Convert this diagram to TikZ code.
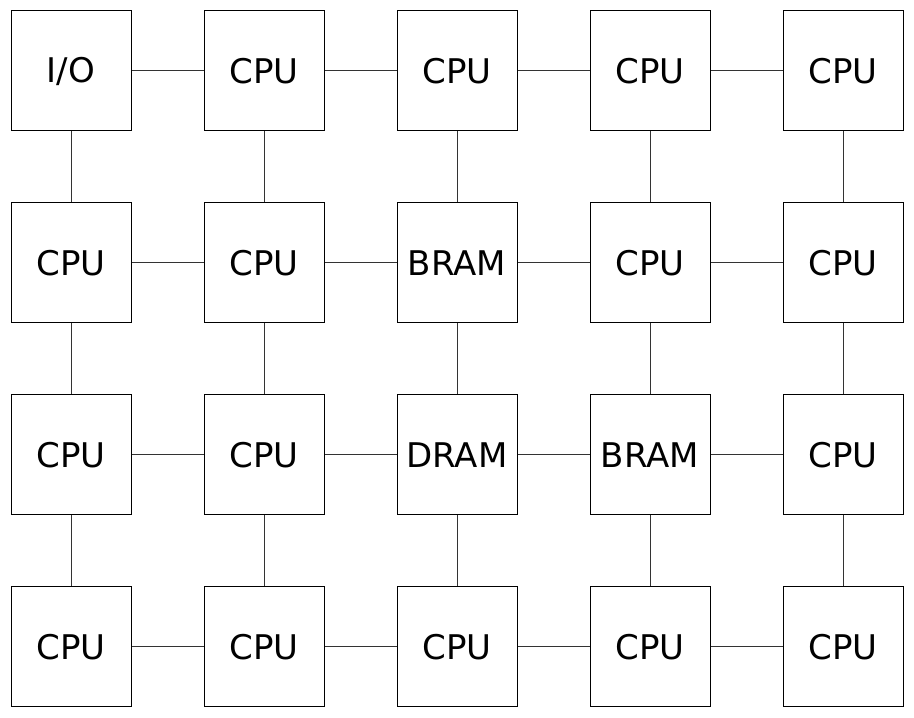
\documentclass[tikz,border=0pt]{standalone}
\usepackage{fontspec}
\setmainfont{DejaVu Sans}
\usetikzlibrary{positioning}
\tikzset{
  tile/.style = {rectangle, draw=black, fill=white, line width=1pt,
                 minimum size=120pt, inner sep=0pt,
                 font=\fontsize{34}{40}\selectfont},
  link/.style = {draw=black!80, line width=1pt},
}
\begin{document}
\begin{tikzpicture}[x=1pt,y=1pt]
\useasboundingbox (0,0) rectangle (914,718);
% --- tiles, row by row from the top -----------------------------------
\foreach \lbl [count=\k from 0] in {{I/O},CPU,CPU,CPU,CPU,
                                    CPU,CPU,BRAM,CPU,CPU,
                                    CPU,CPU,DRAM,BRAM,CPU,
                                    CPU,CPU,CPU,CPU,CPU} {
  \pgfmathtruncatemacro\c{mod(\k,5)}
  \pgfmathtruncatemacro\r{div(\k,5)}
  \node[tile] (n\c\r) at (71+193*\c, 647-192*\r) {\lbl};
}
% --- mesh links -------------------------------------------------------
\foreach \r in {0,...,3} {
  \foreach \c/\d in {0/1,1/2,2/3,3/4} {\draw[link] (n\c\r) -- (n\d\r);}
}
\foreach \c in {0,...,4} {
  \foreach \r/\s in {0/1,1/2,2/3} {\draw[link] (n\c\r) -- (n\c\s);}
}
\end{tikzpicture}
\end{document}
